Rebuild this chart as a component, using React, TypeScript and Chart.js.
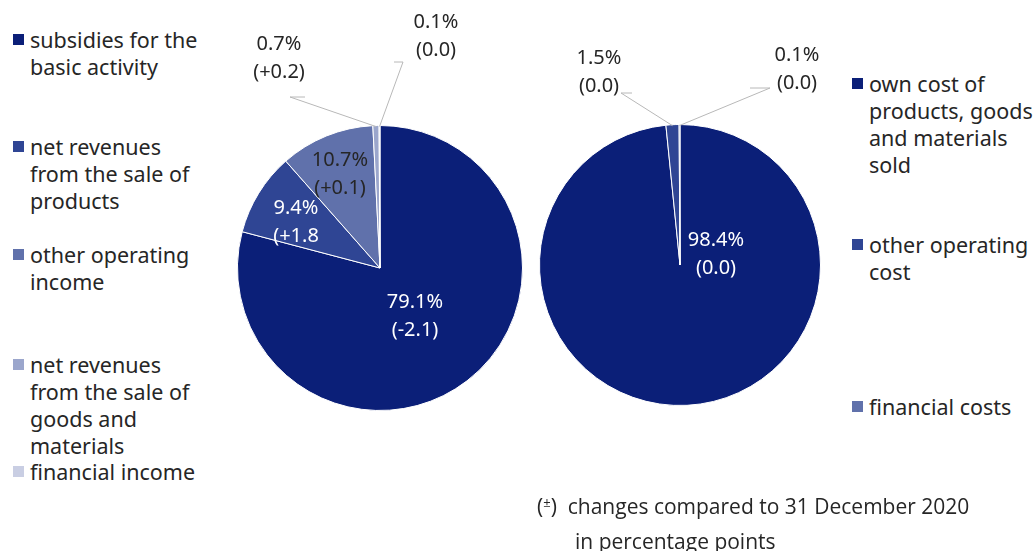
import React, { useEffect, useRef } from "react";
import { Chart, registerables } from "chart.js";

Chart.register(...registerables);

// ---------- data ----------
const INCOME_LABELS = [
  "subsidies for the\nbasic activity",
  "net revenues\nfrom the sale of\nproducts",
  "other operating\nincome",
  "net revenues\nfrom the sale of\ngoods and\nmaterials",
  "financial income",
];
const INCOME_VALUES = [79.1, 9.4, 10.7, 0.7, 0.1];
const INCOME_CHANGES = ["(-2.1)", "(+1.8", "(+0.1)", "(+0.2)", "(0.0)"];

const COST_LABELS = [
  "own cost of\nproducts, goods\nand materials\nsold",
  "other operating\ncost",
  "financial costs",
];
const COST_VALUES = [98.4, 1.5, 0.1];
const COST_CHANGES = ["(0.0)", "(0.0)", "(0.0)"];

// ---------- style ----------
const INCOME_COLORS = ["#0b1f78", "#2f4594", "#6071ab", "#9ba6cc", "#c9cee3"];
const COST_COLORS = ["#0b1f78", "#2f4594", "#6071ab"];
const FONT = "'Noto Sans', sans-serif";
const TEXT_DARK = "#262626";

type LabelStyle = {
  dx: number;
  dy: number;
  color: string;
  leader?: [number, number][];
};

const INCOME_LABEL_STYLE: LabelStyle[] = [
  { dx: 35, dy: 48, color: "#ffffff" },
  { dx: -84, dy: -46, color: "#ffffff" },
  { dx: -40, dy: -94, color: TEXT_DARK },
  { dx: -101, dy: -210, color: TEXT_DARK, leader: [[-90, -171], [-75, -171]] },
  { dx: 56, dy: -232, color: TEXT_DARK, leader: [[23, -206], [14, -206]] },
];
const COST_LABEL_STYLE: LabelStyle[] = [
  { dx: 36, dy: -11, color: "#ffffff" },
  { dx: -81, dy: -193, color: TEXT_DARK, leader: [[-59, -172], [-48, -172]] },
  { dx: 117, dy: -196, color: TEXT_DARK, leader: [[90, -177], [70, -177]] },
];

function makeLabelPlugin(values: number[], changes: string[], styles: LabelStyle[]) {
  return {
    id: "sliceLabels",
    afterDatasetsDraw(chart: any) {
      const ctx = chart.ctx;
      const meta = chart.getDatasetMeta(0);
      ctx.save();
      meta.data.forEach((arc: any, i: number) => {
        const st = styles[i];
        const p = arc.getProps(["x", "y", "startAngle", "endAngle", "outerRadius"], true);
        const cx = p.x;
        const cy = p.y;
        if (st.leader) {
          const mid = (p.startAngle + p.endAngle) / 2;
          const ex = cx + Math.cos(mid) * (p.outerRadius - 1);
          const ey = cy + Math.sin(mid) * (p.outerRadius - 1);
          ctx.beginPath();
          ctx.strokeStyle = "#b8b8b8";
          ctx.lineWidth = 1;
          ctx.moveTo(ex, ey);
          ctx.lineTo(cx + st.leader[0][0], cy + st.leader[0][1]);
          ctx.lineTo(cx + st.leader[1][0], cy + st.leader[1][1]);
          ctx.stroke();
        }
        ctx.fillStyle = st.color;
        ctx.font = `20px ${FONT}`;
        ctx.textAlign = "center";
        ctx.textBaseline = "middle";
        const tx = cx + st.dx;
        const ty = cy + st.dy;
        ctx.fillText(values[i].toFixed(1) + "%", tx, ty - 14);
        ctx.fillText(changes[i], tx, ty + 14);
      });
      ctx.restore();
    },
  };
}

function PieCanvas(props: {
  labels: string[];
  values: number[];
  changes: string[];
  colors: string[];
  styles: LabelStyle[];
  padding: { top: number; bottom: number; left: number; right: number };
}) {
  const ref = useRef<HTMLCanvasElement | null>(null);
  useEffect(() => {
    if (!ref.current) return;
    const chart = new Chart(ref.current, {
      type: "pie",
      data: {
        labels: props.labels,
        datasets: [
          {
            data: props.values,
            backgroundColor: props.colors,
            borderColor: "#ffffff",
            borderWidth: 1,
          },
        ],
      },
      options: {
        animation: false,
        responsive: true,
        maintainAspectRatio: false,
        layout: { padding: props.padding },
        plugins: { legend: { display: false }, tooltip: { enabled: false } },
      },
      plugins: [makeLabelPlugin(props.values, props.changes, props.styles)],
    } as any);
    return () => chart.destroy();
  }, []);
  return <canvas ref={ref} />;
}

function Legend(props: { labels: string[]; colors: string[]; tops: number[]; left: number }) {
  return (
    <>
      {props.labels.map((lab, i) => (
        <div
          key={i}
          style={{
            position: "absolute",
            left: props.left,
            top: props.tops[i],
            display: "flex",
            alignItems: "flex-start",
          }}
        >
          <div
            style={{
              width: 11,
              height: 11,
              background: props.colors[i],
              marginTop: 8,
              marginRight: 6,
              flex: "none",
            }}
          />
          <div
            style={{
              whiteSpace: "pre-line",
              fontFamily: FONT,
              fontSize: 21.5,
              lineHeight: "27px",
              color: TEXT_DARK,
            }}
          >
            {lab}
          </div>
        </div>
      ))}
    </>
  );
}

export default function App() {
  return (
    <div
      style={{
        position: "fixed",
        left: 0,
        top: 0,
        width: 1035,
        height: 551,
        background: "#ffffff",
        overflow: "hidden",
      }}
    >
      <div style={{ position: "absolute", left: 230, top: 0, width: 300, height: 551 }}>
        <PieCanvas
          labels={INCOME_LABELS}
          values={INCOME_VALUES}
          changes={INCOME_CHANGES}
          colors={INCOME_COLORS}
          styles={INCOME_LABEL_STYLE}
          padding={{ top: 125, bottom: 140, left: 7, right: 7 }}
        />
      </div>
      <div style={{ position: "absolute", left: 530, top: 0, width: 300, height: 551 }}>
        <PieCanvas
          labels={COST_LABELS}
          values={COST_VALUES}
          changes={COST_CHANGES}
          colors={COST_COLORS}
          styles={COST_LABEL_STYLE}
          padding={{ top: 124, bottom: 145, left: 9, right: 9 }}
        />
      </div>
      <Legend labels={INCOME_LABELS} colors={INCOME_COLORS} tops={[26, 133, 241, 351, 458]} left={13} />
      <Legend labels={COST_LABELS} colors={COST_COLORS} tops={[70, 231, 393]} left={852} />
      <div
        style={{
          position: "absolute",
          left: 537,
          top: 489,
          fontFamily: "'Open Sans', sans-serif",
          fontSize: 21,
          lineHeight: "35px",
          color: TEXT_DARK,
          whiteSpace: "nowrap",
        }}
      >
        <div style={{ height: 35 }}>
          (<span style={{ fontSize: 13, position: "relative", top: -7 }}>±</span>)&nbsp; changes compared to 31 December 2020
        </div>
        <div style={{ paddingLeft: 38, height: 35 }}>in percentage points</div>
      </div>
    </div>
  );
}
